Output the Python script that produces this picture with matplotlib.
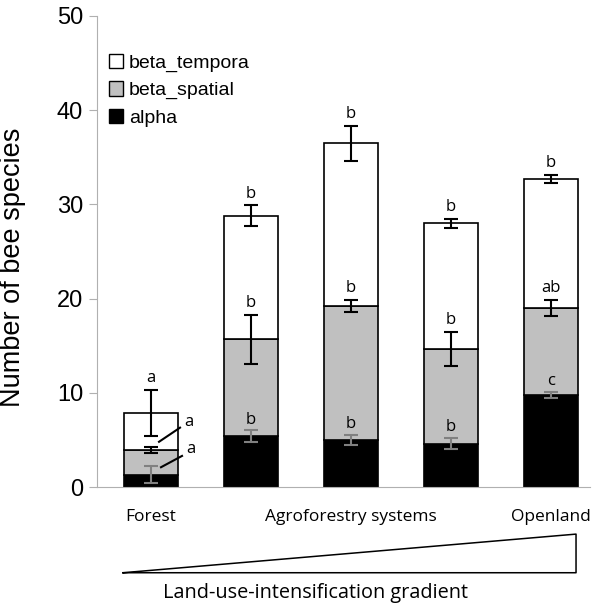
import matplotlib.pyplot as plt
from matplotlib.patches import Patch

# data
sites = ["Forest", "Agro1", "Agro2", "Agro3", "Openland"]
alpha = [1.3, 5.4, 5.0, 4.6, 9.8]
alpha_err = [0.9, 0.6, 0.5, 0.6, 0.3]
beta_spatial_top = [3.9, 15.7, 19.2, 14.65, 19.0]
spatial_err = [0.3, 2.6, 0.65, 1.8, 0.9]
total = [7.9, 28.8, 36.5, 28.0, 32.7]
total_err = [2.45, 1.1, 1.85, 0.5, 0.45]

letters_alpha = ["", "b", "b", "b", "c"]
letters_spatial = ["", "b", "b", "b", "ab"]
letters_total = ["a", "b", "b", "b", "b"]

tick_pos = [0, 2, 4]
tick_labels = ["Forest", "Agroforestry systems", "Openland"]

plt.rcParams['font.family'] = ['Liberation Sans', 'DejaVu Sans']
humanist = ["Open Sans", "DejaVu Sans"]

fig = plt.figure(figsize=(5.93, 6.08), dpi=100)
ax = fig.add_axes([0.1636, 0.199, 0.8314, 0.7747])

x = list(range(len(sites)))
w = 0.54
spatial = [s - a for s, a in zip(beta_spatial_top, alpha)]
temporal = [t - s for t, s in zip(total, beta_spatial_top)]

ax.bar(x, alpha, w, color="black", edgecolor="black", linewidth=1.2, zorder=2)
ax.bar(x, spatial, w, bottom=alpha, color="#c0c0c0", edgecolor="black", linewidth=1.2, zorder=2)
ax.bar(x, temporal, w, bottom=beta_spatial_top, color="white", edgecolor="black", linewidth=1.2, zorder=2)

ax.errorbar(x, alpha, yerr=alpha_err, fmt="none", ecolor="#808080", elinewidth=1.5, capsize=5, capthick=1.5, zorder=3)
ax.errorbar(x, beta_spatial_top, yerr=spatial_err, fmt="none", ecolor="black", elinewidth=1.5, capsize=5, capthick=1.5, zorder=3)
ax.errorbar(x, total, yerr=total_err, fmt="none", ecolor="black", elinewidth=1.5, capsize=5, capthick=1.5, zorder=3)

lf = dict(ha="center", va="bottom", fontsize=12, family=humanist)
for i in x:
    ax.text(i, total[i] + total_err[i] + 0.4, letters_total[i], **lf)
    if letters_spatial[i]:
        ax.text(i, beta_spatial_top[i] + spatial_err[i] + 0.4, letters_spatial[i], **lf)
    if letters_alpha[i]:
        ax.text(i, alpha[i] + alpha_err[i] + 0.3, letters_alpha[i], **lf)

# forest letters with leader lines
ax.plot([0.08, 0.29], [4.8, 6.3], color="black", lw=1.5, zorder=4)
ax.text(0.33, 6.9, "a", ha="left", va="center", fontsize=12, family=humanist)
ax.plot([0.10, 0.31], [2.1, 3.3], color="black", lw=1.5, zorder=4)
ax.text(0.35, 4.0, "a", ha="left", va="center", fontsize=12, family=humanist)

ax.set_xlim(-0.54, 4.39)
ax.set_ylim(0, 50)
ax.set_yticks([0, 10, 20, 30, 40, 50])
ax.tick_params(axis="y", labelsize=17, color="#b0b0b0", length=6, pad=4)
ax.set_xticks(tick_pos)
ax.set_xticklabels(tick_labels, fontsize=12.5, family=humanist)
ax.tick_params(axis="x", length=0, pad=16)
for s in ["top", "right"]:
    ax.spines[s].set_visible(False)
ax.spines["left"].set_color("#b0b0b0")
ax.spines["bottom"].set_color("#b0b0b0")
ax.set_ylabel("Number of bee species", fontsize=19.5)
ax.yaxis.set_label_coords(-0.145, 0.466)

handles = [Patch(facecolor="white", edgecolor="black", label="beta_tempora"),
           Patch(facecolor="#c0c0c0", edgecolor="black", label="beta_spatial"),
           Patch(facecolor="black", edgecolor="black", label="alpha")]
ax.legend(handles=handles, loc="upper left", bbox_to_anchor=(0.0, 0.945), frameon=False,
          fontsize=14, handlelength=0.75, handleheight=0.75, handletextpad=0.3,
          labelspacing=0.5, borderaxespad=0.2)

# gradient triangle
ax.plot([-0.28, 4.25, 4.25, -0.28], [-9.1, -5.0, -9.1, -9.1], color="black", lw=1.1, clip_on=False)
ax.text(1.64, -11.2, "Land-use-intensification gradient", ha="center", va="center",
        fontsize=14.3, family=humanist)

fig.savefig("out.png", dpi=100)
